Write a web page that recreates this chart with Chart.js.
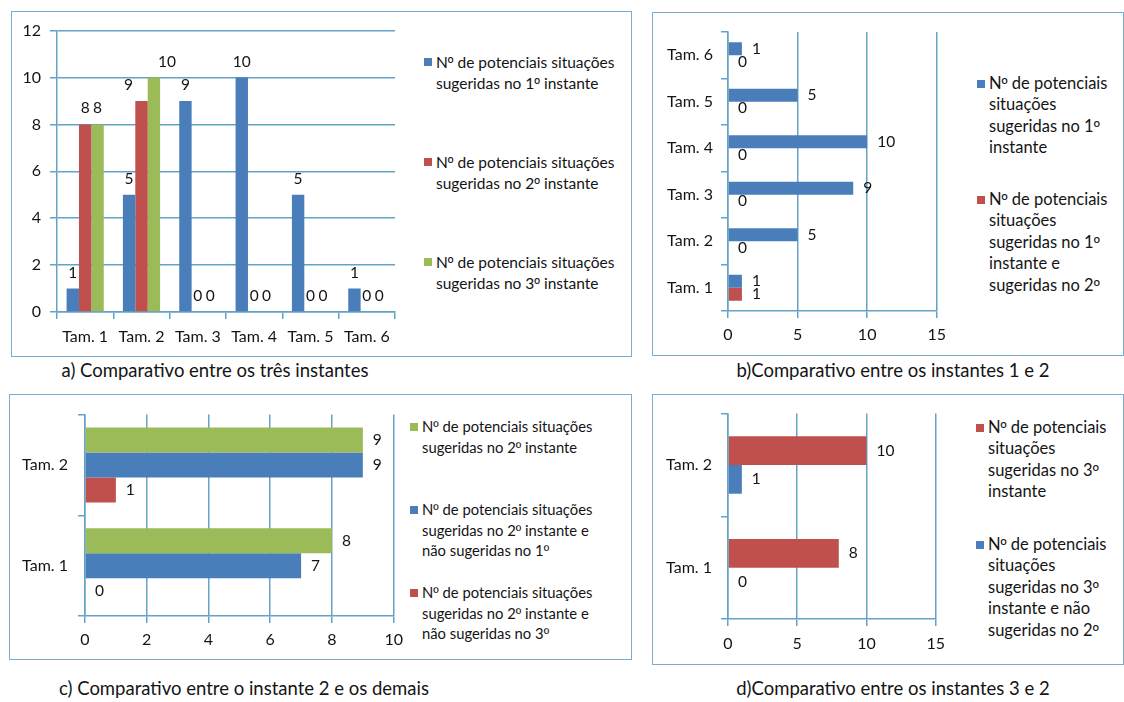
<!DOCTYPE html>
<html>
<head>
<meta charset="utf-8">
<script src="https://cdn.jsdelivr.net/npm/chart.js@4/dist/chart.umd.min.js"></script>
<style>
  html, body { margin: 0; padding: 0; background: #ffffff; }
  body { position: relative; width: 1124px; height: 702px; overflow: hidden; font-family: Lato, "Open Sans", sans-serif; color: #141414; }
  .panel { position: absolute; border: 1.6px solid #78afcf; box-sizing: border-box; }
  canvas { position: absolute; }
  .item { position: absolute; white-space: nowrap; }
  .item .sw { position: absolute; left: -12px; width: 8px; height: 8px; }
  .ord { font-family: "Liberation Sans", Arial, sans-serif; }
  .caption { position: absolute; font-size: 18.5px; white-space: nowrap; transform: translate(-50%, -50%); }
</style>
</head>
<body>

<div class="panel" style="left:11px;top:11px;width:621px;height:346px"></div>
<div class="panel" style="left:652px;top:12px;width:472px;height:344px"></div>
<div class="panel" style="left:9px;top:394px;width:623px;height:266px"></div>
<div class="panel" style="left:652px;top:394px;width:472px;height:271px"></div>

<canvas id="chartA" width="400" height="345" style="left:12px;top:12px"></canvas>
<canvas id="chartB" width="300" height="343" style="left:653px;top:13px"></canvas>
<canvas id="chartC" width="400" height="265" style="left:10px;top:395px"></canvas>
<canvas id="chartD" width="300" height="270" style="left:653px;top:395px"></canvas>

<div id="legendA"></div>
<div id="legendB"></div>
<div id="legendC"></div>
<div id="legendD"></div>

<div class="caption" style="left:215px;top:370px">a) Comparativo entre os três instantes</div>
<div class="caption" style="left:893px;top:370px">b)Comparativo entre os instantes 1 e 2</div>
<div class="caption" style="left:244px;top:688px">c) Comparativo entre o instante 2 e os demais</div>
<div class="caption" style="left:893px;top:688px">d)Comparativo entre os instantes 3 e 2</div>

<script>
// ---- data ----
const sizes = ['Tam. 1', 'Tam. 2', 'Tam. 3', 'Tam. 4', 'Tam. 5', 'Tam. 6'];
const sizesPair = ['Tam. 1', 'Tam. 2'];

// a) three instants
const suggestedFirst = [1, 5, 9, 10, 5, 1];
const suggestedSecond = [8, 9, 0, 0, 0, 0];
const suggestedThird = [8, 10, 0, 0, 0, 0];

// b) instants 1 and 2
const firstInstantB = [1, 5, 9, 10, 5, 1];
const firstAndSecondB = [1, 0, 0, 0, 0, 0];

// c) instant 2 versus the others
const secondInstantC = [8, 9];
const secondNotFirstC = [7, 9];
const secondNotThirdC = [0, 1];

// d) instants 3 and 2
const thirdInstantD = [8, 10];
const thirdNotSecondD = [0, 1];

// legend texts (line breaks as laid out)
const legendTextA = [
  'Nº de potenciais situações<br>sugeridas no 1º instante',
  'Nº de potenciais situações<br>sugeridas no 2º instante',
  'Nº de potenciais situações<br>sugeridas no 3º instante'
];
const legendTextB = [
  'Nº de potenciais<br>situações<br>sugeridas no 1º<br>instante',
  'Nº de potenciais<br>situações<br>sugeridas no 1º<br>instante e<br>sugeridas no 2º'
];
const legendTextC = [
  'Nº de potenciais situações<br>sugeridas no 2º instante',
  'Nº de potenciais situações<br>sugeridas no 2º instante e<br>não sugeridas no 1º',
  'Nº de potenciais situações<br>sugeridas no 2º instante e<br>não sugeridas no 3º'
];
const legendTextD = [
  'Nº de potenciais<br>situações<br>sugeridas no 3º<br>instante',
  'Nº de potenciais<br>situações<br>sugeridas no 3º<br>instante e não<br>sugeridas no 2º'
];

// ---- styling ----
const BLUE = '#4a7ebb';
const RED = '#c0504d';
const GREEN = '#9bbb59';
const LINE = '#64a2c6';
const TEXT = '#141414';
const FONT = 'Lato, "Open Sans", sans-serif';

// value written next to every bar, taken from the dataset itself;
// "shift" nudges individual labels sideways so neighbours do not collide
const valueLabels = {
  id: 'valueLabels',
  afterDatasetsDraw(chart, args, opts) {
    const ctx = chart.ctx;
    const horizontal = chart.options.indexAxis === 'y';
    const shift = (opts && opts.shift) || {};
    ctx.save();
    ctx.font = '15.5px ' + FONT;
    ctx.fillStyle = TEXT;
    ctx.textBaseline = 'middle';
    chart.data.datasets.forEach((ds, i) => {
      chart.getDatasetMeta(i).data.forEach((bar, j) => {
        const v = ds.data[j];
        const dx = shift[i + ':' + j] || 0;
        if (horizontal) {
          ctx.textAlign = 'left';
          ctx.fillText(String(v), bar.x + 10, bar.y);
        } else {
          ctx.textAlign = 'center';
          ctx.fillText(String(v), bar.x + dx, bar.y - 16);
        }
      });
    });
    ctx.restore();
  }
};

function tickFont() { return { family: FONT, size: 16 }; }

function valueAxis(max, step, pad, fit, isX) {
  return {
    min: 0, max: max,
    ticks: { stepSize: step, padding: pad, color: TEXT, font: tickFont() },
    grid: { color: LINE, lineWidth: 1.5, tickLength: 7, drawTicks: true },
    border: { color: LINE, width: 1.5 },
    afterFit(s) { if (isX) s.height = fit; else s.width = fit; }
  };
}

function categoryAxis(pad, fit, isX, reverse) {
  return {
    reverse: !!reverse,
    ticks: { padding: pad, color: TEXT, font: tickFont(), autoSkip: false, maxRotation: 0 },
    grid: { offset: true, drawOnChartArea: false, color: LINE, lineWidth: 1.5, tickLength: 7 },
    border: { color: LINE, width: 1.5 },
    afterFit(s) { if (isX) s.height = fit; else s.width = fit; }
  };
}

function baseOptions(extra, labelOpts) {
  return Object.assign({
    responsive: false,
    animation: false,
    plugins: {
      legend: { display: false },
      tooltip: { enabled: false },
      valueLabels: labelOpts || {}
    }
  }, extra);
}

function bars(label, data, color, cat) {
  return { label, data, backgroundColor: color, borderWidth: 0, categoryPercentage: cat, barPercentage: 1 };
}

// a) vertical grouped bars
const chartA = new Chart(document.getElementById('chartA'), {
  type: 'bar',
  data: {
    labels: sizes,
    datasets: [
      bars('1º instante', suggestedFirst, BLUE, 0.66),
      bars('2º instante', suggestedSecond, RED, 0.66),
      bars('3º instante', suggestedThird, GREEN, 0.66)
    ]
  },
  options: baseOptions({
    layout: { padding: { top: 18, right: 17, left: 0, bottom: 0 } },
    scales: {
      x: categoryAxis(8, 45, true, false),
      y: valueAxis(12, 2, 9, 45, false)
    }
  }, { shift: { '1:1': -13, '2:1': 13 } }),
  plugins: [valueLabels]
});

// b) horizontal bars, instants 1 and 2
const chartB = new Chart(document.getElementById('chartB'), {
  type: 'bar',
  data: {
    labels: sizes,
    datasets: [
      bars('1º instante', firstInstantB, BLUE, 0.56),
      bars('1º e 2º', firstAndSecondB, RED, 0.56)
    ]
  },
  options: baseOptions({
    indexAxis: 'y',
    layout: { padding: { top: 19, right: 16, left: 0, bottom: 0 } },
    scales: {
      x: valueAxis(15, 5, 7, 45, true),
      y: categoryAxis(8, 75, false, true)
    }
  }),
  plugins: [valueLabels]
});

// c) horizontal bars, instant 2 versus the others
const chartC = new Chart(document.getElementById('chartC'), {
  type: 'bar',
  data: {
    labels: sizesPair,
    datasets: [
      bars('2º instante', secondInstantC, GREEN, 0.745),
      bars('2º e não 1º', secondNotFirstC, BLUE, 0.745),
      bars('2º e não 3º', secondNotThirdC, RED, 0.745)
    ]
  },
  options: baseOptions({
    indexAxis: 'y',
    layout: { padding: { top: 17, right: 16, left: 0, bottom: 0 } },
    scales: {
      x: valueAxis(10, 2, 7, 44, true),
      y: categoryAxis(10, 75, false, true)
    }
  }),
  plugins: [valueLabels]
});

// d) horizontal bars, instants 3 and 2
const chartD = new Chart(document.getElementById('chartD'), {
  type: 'bar',
  data: {
    labels: sizesPair,
    datasets: [
      bars('3º instante', thirdInstantD, RED, 0.56),
      bars('3º e não 2º', thirdNotSecondD, BLUE, 0.56)
    ]
  },
  options: baseOptions({
    indexAxis: 'y',
    layout: { padding: { top: 17, right: 16, left: 0, bottom: 0 } },
    scales: {
      x: valueAxis(15, 5, 8, 46, true),
      y: categoryAxis(9, 75, false, true)
    }
  }),
  plugins: [valueLabels]
});

// legends built from each chart's datasets
function buildLegend(id, chart, texts, left, tops, lineHeight, fontSize) {
  const box = document.getElementById(id);
  chart.data.datasets.forEach((ds, i) => {
    const el = document.createElement('div');
    el.className = 'item';
    el.style.left = left + 'px';
    el.style.top = tops[i] + 'px';
    el.style.lineHeight = lineHeight + 'px';
    el.style.fontSize = fontSize + 'px';
    const sw = document.createElement('span');
    sw.className = 'sw';
    sw.style.background = ds.backgroundColor;
    sw.style.top = Math.round(lineHeight / 2 - 4) + 'px';
    el.appendChild(sw);
    el.insertAdjacentHTML('beforeend', texts[i].replace(/º/g, '<span class="ord">º</span>'));
    box.appendChild(el);
  });
}

buildLegend('legendA', chartA, legendTextA, 436, [52, 152, 252], 20, 15.5);
buildLegend('legendB', chartB, legendTextB, 989, [73, 189], 21.4, 16.5);
buildLegend('legendC', chartC, legendTextC, 422, [417, 500, 583], 19.5, 14.8);
buildLegend('legendD', chartD, legendTextD, 988, [417, 534], 21.4, 16.5);
</script>
</body>
</html>
